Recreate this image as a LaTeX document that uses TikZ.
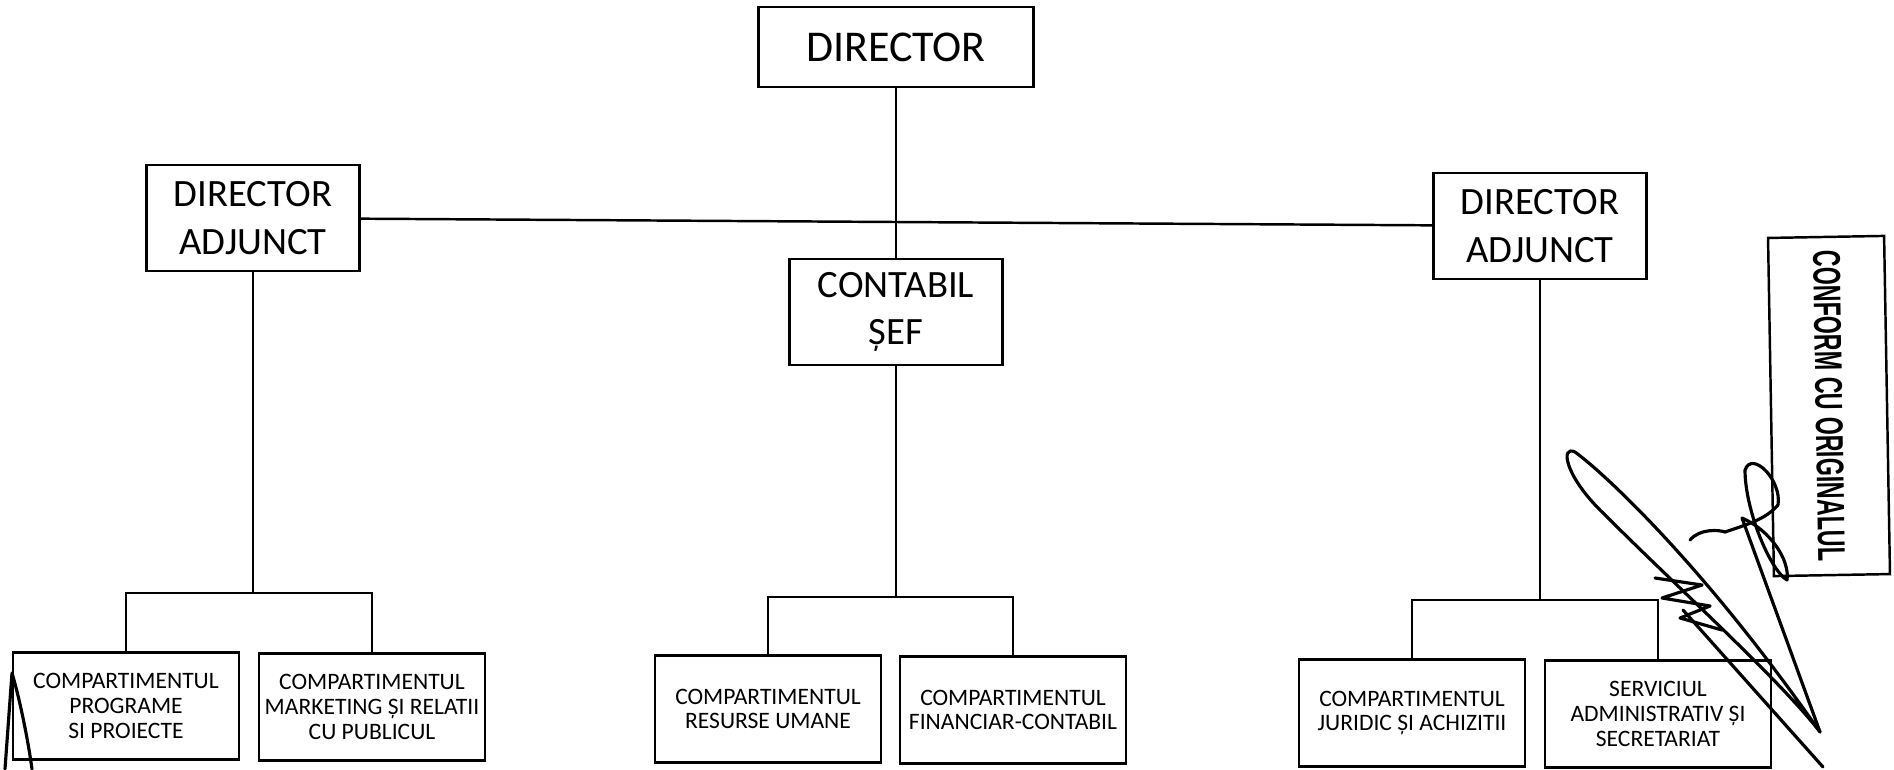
\documentclass[tikz,border=0pt]{standalone}
\usepackage{fontspec}
\usepackage{graphicx}
\setmainfont{Carlito}
\newfontfamily\stampfont{Liberation Sans}

\begin{document}
\begin{tikzpicture}[x=0.01cm, y=-0.01cm, line width=0.7pt,
    box/.style={draw, rectangle, align=center, inner sep=0pt},
    topbox/.style={box, minimum width=2.75cm, minimum height=0.8cm, font=\fontsize{12.5}{15}\selectfont},
    midbox/.style={box, minimum width=2.13cm, minimum height=1.06cm, font=\fontsize{11}{13.5}\selectfont},
    compbox/.style={box, minimum width=2.26cm, minimum height=1.07cm, font=\fontsize{6.7}{7}\selectfont},
    sig/.style={line width=0.9pt, line cap=round, line join=round}]

    \useasboundingbox (0,0) rectangle (1894,769);

    % conducere
    \node[topbox] (dir) at (896,47) {DIRECTOR};
    \node[midbox] (adjL) at (253,218) {DIRECTOR\\ADJUNCT};
    \node[midbox] (cont) at (896,312) {CONTABIL\\ȘEF};
    \node[midbox] (adjR) at (1540,226) {DIRECTOR\\ADJUNCT};

    % compartimente
    \node[compbox] (progr) at (126,706) {COMPARTIMENTUL\\PROGRAME\\SI PROIECTE};
    \node[compbox] (mark) at (372,707) {COMPARTIMENTUL\\MARKETING ȘI RELATII\\CU  PUBLICUL};
    \node[compbox] (resum) at (768,709) {COMPARTIMENTUL\\RESURSE UMANE};
    \node[compbox] (fin) at (1013,710) {COMPARTIMENTUL\\FINANCIAR-CONTABIL};
    \node[compbox] (jur) at (1412,713) {COMPARTIMENTUL\\JURIDIC ȘI ACHIZITII};
    \node[compbox] (admin) at (1658,714) {SERVICIUL\\ADMINISTRATIV ȘI\\SECRETARIAT};

    % puncte de ramificare
    \coordinate (jL) at (253,593);
    \coordinate (jC) at (896,597);
    \coordinate (jR) at (1540,600);

    % legaturi
    \draw (dir) -- (cont);
    \draw (adjL) -- (adjR);
    \draw (adjL) -- (jL);
    \draw (cont) -- (jC);
    \draw (adjR) -- (jR);
    \draw (progr.north) |- (jL) -| (mark.north);
    \draw (resum.north) |- (jC) -| (fin.north);
    \draw (jur.north) |- (jR) -| (admin.north);

    % stampila
    \node[draw, rotate=-89, minimum width=3.38cm, minimum height=1.16cm, inner sep=0pt,
        font=\stampfont\bfseries\fontsize{11}{13}\selectfont] (stamp) at (1829,406)
        {\scalebox{0.6}[1]{CONFORM CU ORIGINALUL}};

    % semnatura
    \draw[sig] (1820,732) .. controls (1700,560) and (1600,470) .. (1575,452)
        .. controls (1560,445) and (1565,475) .. (1600,510)
        .. controls (1680,590) and (1780,680) .. (1820,732);
    \draw[sig] (1683,610) -- (1823,767);
    \draw[sig] (1655,578) -- (1702,585) -- (1662,598) -- (1710,606) -- (1680,618) -- (1722,630);
    \draw[sig] (1690,540) .. controls (1700,528) and (1720,530) .. (1725,532)
        .. controls (1745,525) and (1765,520) .. (1778,505);
    \draw[sig] (1778,505) .. controls (1782,480) and (1752,450) .. (1745,470)
        .. controls (1745,510) and (1770,570) .. (1787,580)
        .. controls (1790,560) and (1770,530) .. (1742,518) -- (1820,732);
    \draw[sig] (5,769) -- (12,673) .. controls (20,700) and (28,740) .. (32,769);
\end{tikzpicture}
\end{document}
